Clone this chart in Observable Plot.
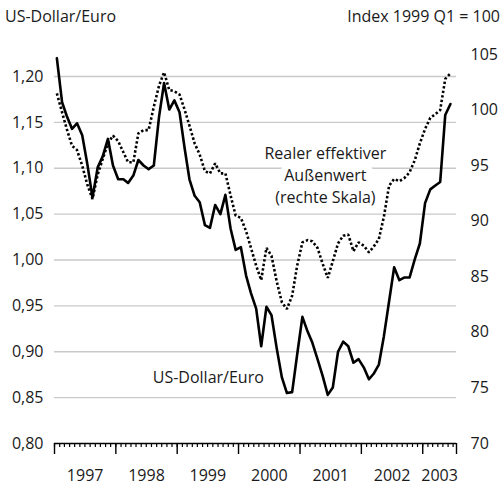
<!DOCTYPE html>
<html><head><meta charset="utf-8">
<script src="https://cdn.jsdelivr.net/npm/d3@7"></script>
<script src="https://cdn.jsdelivr.net/npm/@observablehq/plot@0.6"></script>
<style>
body{margin:0;background:#fff;}
#c{position:relative;width:504px;height:488px;font-family:"Open Sans",sans-serif;color:#1a1a1a;}
.hdr{position:absolute;top:5px;font-size:16px;line-height:22px;}
</style></head><body>
<div id="c"><div class="hdr" style="left:5px">US-Dollar/Euro</div><div class="hdr" style="right:4px">Index 1999 Q1 = 100</div></div>
<script>
// Monthly data, January 1997 – June 2003
const usdEuro = [
  1.220,1.172,1.157,1.143,1.149,1.136,1.105,1.068,1.101,1.113,1.132,1.103,
  1.088,1.088,1.084,1.092,1.109,1.103,1.099,1.103,1.156,1.193,1.164,1.174,
  1.161,1.121,1.088,1.070,1.063,1.038,1.035,1.060,1.050,1.071,1.034,1.011,
  1.014,0.983,0.964,0.947,0.906,0.949,0.940,0.904,0.872,0.855,0.856,0.897,
  0.938,0.922,0.910,0.892,0.874,0.853,0.861,0.900,0.911,0.906,0.888,0.892,
  0.883,0.870,0.876,0.886,0.917,0.955,0.992,0.978,0.981,0.981,1.001,1.018,
  1.062,1.077,1.081,1.085,1.158,1.170
];
const realEffective = [
  101.5,99.8,98.3,96.8,96.4,95.0,93.3,92.0,94.2,95.6,97.0,97.7,
  97.2,96.2,95.3,95.3,97.9,98.2,98.2,100.3,102.2,103.4,101.8,101.7,
  101.4,100.0,98.6,97.0,96.0,94.5,94.3,95.2,94.3,94.3,92.3,90.5,
  90.3,89.1,87.6,86.0,84.7,87.6,86.9,84.6,82.7,82.1,83.3,86.0,
  88.1,88.3,88.2,87.6,86.2,84.9,86.4,88.0,88.7,88.8,87.3,88.1,
  87.8,87.2,87.7,88.4,90.4,93.2,93.8,93.6,93.9,94.4,95.5,97.0,
  98.3,99.3,99.6,100.0,102.8,103.3
];
const leftTicks = [0.80,0.85,0.90,0.95,1.00,1.05,1.10,1.15,1.20];
const gridTicks = [0.85,0.90,0.95,1.00,1.05,1.10,1.15,1.20];
const rightTicks = [70,75,80,85,90,95,100,105];
const yearLabels = [1997,1998,1999,2000,2001,2002,2003];
const annotations = [
  {text:"Realer effektiver\nAußenwert\n(rechte Skala)", date:"2001-06-01", value:1.094, halo:true},
  {text:"US-Dollar/Euro", date:"1999-07-05", value:0.871, halo:false}
];

const leftMin = 0.80, leftMax = 1.224, rightMin = 70, rightMax = 105;
const idxToLeft = v => leftMin + (v - rightMin) * (leftMax - leftMin) / (rightMax - rightMin);
const leftToIdx = v => rightMin + (v - leftMin) * (rightMax - rightMin) / (leftMax - leftMin);

const start = new Date(Date.UTC(1997,0,1));
const end = new Date(Date.UTC(2003,6,21));
const months = d3.utcMonth.range(start, new Date(Date.UTC(2003,6,1))).map(d => d3.utcDay.offset(d, 14));
const rows = months.map((date,i) => ({date, usd: usdEuro[i], idx: realEffective[i]}));
const monthTicks = d3.utcMonth.range(start, end);
const yearTicks = d3.utcYear.range(start, end).concat([end]);
const yearRows = yearLabels.map(y => {
  const a = new Date(Date.UTC(y,0,1)), b = new Date(Math.min(+new Date(Date.UTC(y+1,0,1)), +end));
  return {year: String(y), date: new Date((+a + +b)/2)};
});
const annRows = annotations.map(a => ({...a, date: new Date(a.date + "T00:00:00Z")}));

const chart = Plot.plot({
  width: 504, height: 488,
  marginLeft: 54, marginRight: 48, marginTop: 54, marginBottom: 45,
  style: {fontFamily: '"Open Sans", sans-serif', fontSize: "16px", color: "#1a1a1a", background: "transparent", overflow: "visible"},
  x: {type: "utc", domain: [start, end]},
  y: {domain: [leftMin, leftMax]},
  marks: [
    Plot.gridY(gridTicks, {stroke: "#c9c9c9", strokeOpacity: 1, strokeWidth: 1.4}),
    Plot.axisY(leftTicks, {anchor: "left", tickSize: 0, tickPadding: 11, label: null,
      tickFormat: d => d.toFixed(2).replace(".", ",")}),
    Plot.axisY(rightTicks.map(idxToLeft), {anchor: "right", tickSize: 0, tickPadding: 14, label: null,
      tickFormat: d => String(Math.round(leftToIdx(d)))}),
    Plot.axisX(monthTicks, {anchor: "bottom", tickSize: 4, tickFormat: () => "", label: null, strokeWidth: 1.2, stroke: "black"}),
    Plot.axisX(yearTicks, {anchor: "bottom", tickSize: 11, tickFormat: () => "", label: null, strokeWidth: 1.4, stroke: "black"}),
    Plot.ruleY([leftMin], {stroke: "black", strokeWidth: 1.6}),
    Plot.text(yearRows, {x: "date", text: "year", frameAnchor: "bottom", dy: 37, fill: "currentColor"}),
    Plot.line(rows, {x: "date", y: d => idxToLeft(d.idx), stroke: "black", strokeWidth: 2.6,
      strokeDasharray: "2.4 2.2", strokeLinecap: "butt", strokeLinejoin: "miter"}),
    Plot.line(rows, {x: "date", y: "usd", stroke: "black", strokeWidth: 2.6}),
    Plot.text(annRows.filter(d => d.halo), {x: "date", y: "value", text: "text", lineHeight: 1.4,
      fill: "currentColor", stroke: "white", strokeWidth: 14}),
    Plot.text(annRows.filter(d => !d.halo), {x: "date", y: "value", text: "text", fill: "currentColor"})
  ]
});
const c = document.getElementById("c");
chart.style.position = "absolute";
chart.style.left = "0";
chart.style.top = "0";
c.insertBefore(chart, c.firstChild);
</script>
</body></html>
